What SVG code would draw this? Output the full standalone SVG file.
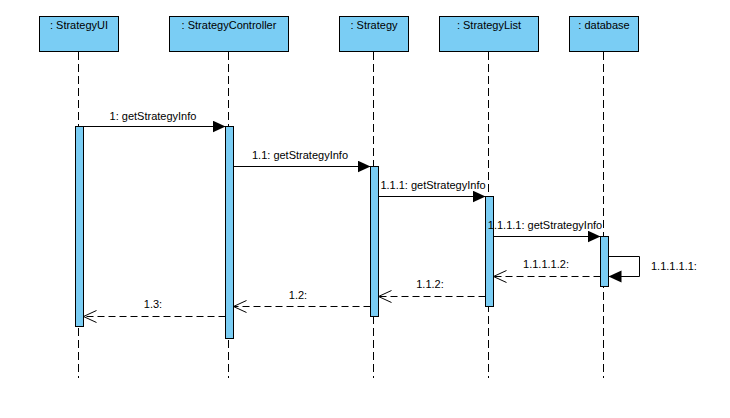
<svg xmlns="http://www.w3.org/2000/svg" width="730" height="418" viewBox="0 0 730 418">
<style>
.head{fill:#7acdf4;stroke:#000;stroke-width:1}
.life{stroke:#000;stroke-width:1;stroke-dasharray:8,4;fill:none}
.bar{fill:#7acdf4;stroke:#000;stroke-width:1}
.msg{stroke:#000;stroke-width:1;fill:none}
.ret{stroke:#000;stroke-width:1;fill:none;stroke-dasharray:7,4}
text{font-family:"Liberation Sans",Arial,sans-serif;font-size:11px;fill:#000}
.c{text-anchor:middle}
</style>
<defs>
<marker id="fill" markerWidth="14" markerHeight="14" refX="13" refY="6" orient="auto" markerUnits="userSpaceOnUse">
<path d="M0,0 L13,6 L0,12 Z" fill="#000"/>
</marker>
<marker id="open" markerWidth="14" markerHeight="14" refX="13" refY="6" orient="auto" markerUnits="userSpaceOnUse">
<path d="M0,0 L13,6 L0,12" fill="none" stroke="#000" stroke-width="1"/>
</marker>
</defs>
<rect width="730" height="418" fill="#fff"/>
<g id="StrategyUI">
<rect class="head" x="39.5" y="16.5" width="79" height="35"/>
<text class="c" x="79" y="29">: StrategyUI</text>
<line class="life" x1="78.5" y1="52" x2="78.5" y2="378"/>
<rect class="bar" x="75.5" y="126.5" width="8" height="200"/>
</g>
<g id="StrategyController">
<rect class="head" x="169.5" y="16.5" width="119" height="35"/>
<text class="c" x="229" y="29">: StrategyController</text>
<line class="life" x1="228.5" y1="52" x2="228.5" y2="378"/>
<rect class="bar" x="225.5" y="126.5" width="8" height="212"/>
</g>
<g id="Strategy">
<rect class="head" x="339.5" y="16.5" width="69" height="35"/>
<text class="c" x="374" y="29">: Strategy</text>
<line class="life" x1="373.5" y1="52" x2="373.5" y2="378"/>
<rect class="bar" x="370.5" y="166.5" width="8" height="150"/>
</g>
<g id="StrategyList">
<rect class="head" x="439.5" y="16.5" width="99" height="35"/>
<text class="c" x="489" y="29">: StrategyList</text>
<line class="life" x1="488.5" y1="52" x2="488.5" y2="378"/>
<rect class="bar" x="485.5" y="196.5" width="8" height="110"/>
</g>
<g id="database">
<rect class="head" x="569.5" y="16.5" width="69" height="35"/>
<text class="c" x="604" y="29">: database</text>
<line class="life" x1="603.5" y1="52" x2="603.5" y2="378"/>
<rect class="bar" x="600.5" y="236.5" width="8" height="50"/>
</g>
<g id="connectors">
<line class="msg" x1="83.5" y1="126.5" x2="225.5" y2="126.5" marker-end="url(#fill)"/>
<text class="c" x="153" y="120">1: getStrategyInfo</text>
<line class="msg" x1="233.5" y1="166.5" x2="370.5" y2="166.5" marker-end="url(#fill)"/>
<text class="c" x="300" y="159">1.1: getStrategyInfo</text>
<line class="msg" x1="378.5" y1="196.5" x2="485.5" y2="196.5" marker-end="url(#fill)"/>
<text class="c" x="433" y="189">1.1.1: getStrategyInfo</text>
<line class="msg" x1="493.5" y1="236.5" x2="600.5" y2="236.5" marker-end="url(#fill)"/>
<text class="c" x="545" y="229">1.1.1.1: getStrategyInfo</text>
<polyline class="msg" points="608.5,256.5 639.5,256.5 639.5,276.5 608.5,276.5" marker-end="url(#fill)"/>
<text x="651" y="270">1.1.1.1.1:</text>
<line class="ret" x1="600.5" y1="276.5" x2="493.5" y2="276.5" marker-end="url(#open)"/>
<text class="c" x="546" y="268">1.1.1.1.2:</text>
<line class="ret" x1="485.5" y1="296.5" x2="378.5" y2="296.5" marker-end="url(#open)"/>
<text class="c" x="430" y="288">1.1.2:</text>
<line class="ret" x1="370.5" y1="306.5" x2="233.5" y2="306.5" marker-end="url(#open)"/>
<text class="c" x="298" y="299">1.2:</text>
<line class="ret" x1="225.5" y1="316.5" x2="83.5" y2="316.5" marker-end="url(#open)"/>
<text class="c" x="153" y="308">1.3:</text>
</g>
</svg>
